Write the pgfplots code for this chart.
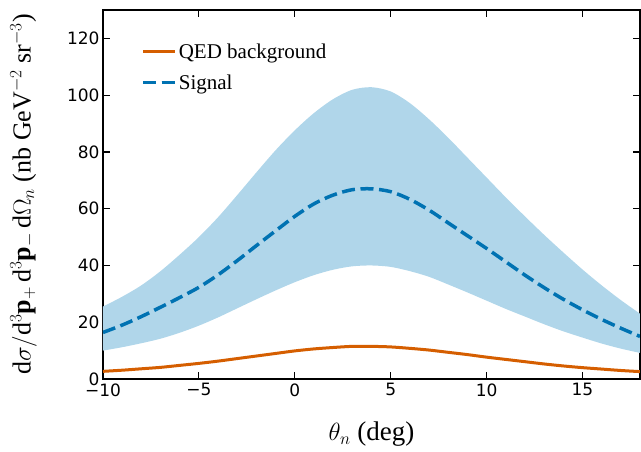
\documentclass[border=0pt]{standalone}
\usepackage{pgfplots}
\pgfplotsset{compat=1.18}
\usepgfplotslibrary{fillbetween}
\usepackage{pgfplotstable}
\usepackage{fontspec}
\setmainfont{Liberation Serif}
\newfontfamily\dejavu{DejaVu Sans}
\definecolor{qed}{RGB}{213,94,0}
\definecolor{sig}{RGB}{0,114,178}
\definecolor{band}{RGB}{176,214,234}

\pgfplotstableread{
x    qed   sig   up     lo
-10  2.7   16.4  25.5   10.0
-9   3.1   19.0  29.0   11.2
-8   3.6   22.0  33.0   12.6
-7   4.1   25.3  38.0   14.2
-6   4.8   28.7  43.8   16.3
-5   5.5   32.3  50.0   18.8
-4   6.3   36.7  57.0   21.7
-3   7.2   41.7  64.8   24.9
-2   8.1   47.0  72.8   28.1
-1   9.0   52.2  80.6   31.2
0    9.9   57.3  87.6   34.1
1    10.6  61.7  93.7   36.6
2    11.1  64.8  98.6   38.5
3    11.5  66.7  101.9  39.7
4    11.5  67.0  102.8  40.0
5    11.3  66.0  101.3  39.5
6    10.8  63.3  97.2   38.0
7    10.2  59.5  91.5   36.0
8    9.4   55.0  85.0   33.3
9    8.6   50.5  78.0   30.5
10   7.7   46.0  71.0   27.6
11   6.9   41.3  64.0   24.7
12   6.1   36.6  57.3   22.0
13   5.3   32.2  50.8   19.3
14   4.6   28.1  44.6   16.8
15   4.0   24.4  38.6   14.6
16   3.5   21.0  33.0   12.5
17   3.0   17.9  27.8   10.7
18   2.6   15.0  23.0    9.2
}\data

\begin{document}
\begin{tikzpicture}
\begin{axis}[
  at={(0pt,0pt)}, anchor=south west,
  scale only axis,
  width=537pt, height=369pt,
  xmin=-10, xmax=18, ymin=0, ymax=130,
  xtick={-10,-5,0,5,10,15},
  xticklabels={−10,−5,0,5,10,15},
  ytick={0,20,40,60,80,100,120},
  yticklabels={0,20,40,60,80,100,120},
  tick align=inside,
  major tick length=7pt,
  tick style={line width=1.2pt, black},
  axis line style={line width=1.5pt},
  every tick label/.append style={font=\dejavu\fontsize{17}{20}\selectfont},
  xticklabel style={yshift=-1pt},
  xlabel={$\theta_n$ (deg)},
  xlabel style={font=\fontsize{27}{31}\selectfont, at={(axis description cs:0.5,-0.15)}, anchor=center},
  ylabel={$\mathrm{d}\sigma/\mathrm{d}^3\mathbf{p}_+\,\mathrm{d}^3\mathbf{p}_-\,\mathrm{d}\Omega_n$ (nb GeV$^{-2}$ sr$^{-3}$)},
  ylabel style={font=\fontsize{26}{30}\selectfont, at={(axis description cs:-0.148,0.5)}, anchor=center},
  legend style={draw=none, fill=none, at={(axis description cs:0.071,0.915)}, anchor=north west,
    font=\fontsize{21}{24}\selectfont, row sep=11pt, inner sep=0pt},
  legend cell align=left,
  legend image code/.code={\draw[#1] (0pt,0pt) -- (20pt,0pt); \path (0pt,0pt) -- (32pt,0pt);},
]
\addplot[name path=up, draw=none, smooth, forget plot] table[x=x, y=up] {\data};
\addplot[name path=lo, draw=none, smooth, forget plot] table[x=x, y=lo] {\data};
\addplot[band, draw=none, forget plot] fill between[of=up and lo];
\addplot[qed, line width=3pt, smooth] table[x=x, y=qed] {\data};
\addlegendentry{QED background}
\addplot[sig, line width=3.5pt, smooth, dash pattern=on 13pt off 5.6pt] table[x=x, y=sig] {\data};
\addlegendentry{Signal}
\end{axis}
\pgfresetboundingbox
\path[use as bounding box] (-103pt,-72pt) rectangle (538pt,379pt);
\end{tikzpicture}
\end{document}
